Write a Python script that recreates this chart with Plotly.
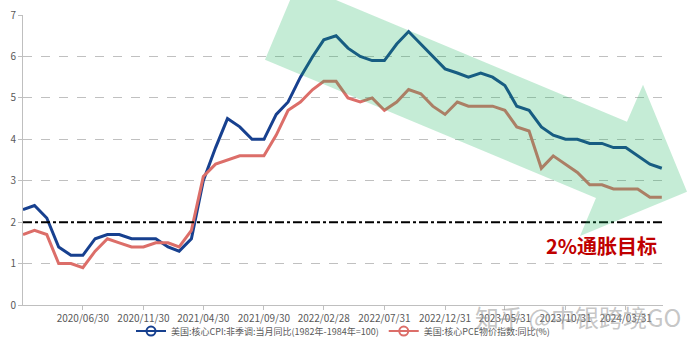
import pandas as pd
import plotly.graph_objects as go

# Month-end dates, 2020/01 .. 2024/06
months = pd.date_range("2020-01-31", periods=54, freq="ME")

core_cpi = [2.3, 2.4, 2.1, 1.4, 1.2, 1.2, 1.6, 1.7, 1.7, 1.6, 1.6, 1.6,
            1.4, 1.3, 1.6, 3.0, 3.8, 4.5, 4.3, 4.0, 4.0, 4.6, 4.9, 5.5,
            6.0, 6.4, 6.5, 6.2, 6.0, 5.9, 5.9, 6.3, 6.6, 6.3, 6.0, 5.7,
            5.6, 5.5, 5.6, 5.5, 5.3, 4.8, 4.7, 4.3, 4.1, 4.0, 4.0, 3.9,
            3.9, 3.8, 3.8, 3.6, 3.4, 3.3]
core_pce = [1.7, 1.8, 1.7, 1.0, 1.0, 0.9, 1.3, 1.6, 1.5, 1.4, 1.4, 1.5,
            1.5, 1.4, 1.8, 3.1, 3.4, 3.5, 3.6, 3.6, 3.6, 4.1, 4.7, 4.9,
            5.2, 5.4, 5.4, 5.0, 4.9, 5.0, 4.7, 4.9, 5.2, 5.1, 4.8, 4.6,
            4.9, 4.8, 4.8, 4.8, 4.7, 4.3, 4.2, 3.3, 3.6, 3.4, 3.2, 2.9,
            2.9, 2.8, 2.8, 2.8, 2.6, 2.6]

tick_dates = ["2020-06-30", "2020-11-30", "2021-04-30", "2021-09-30", "2022-02-28",
              "2022-07-31", "2022-12-31", "2023-05-31", "2023-10-31", "2024-03-31"]
tick_labels = [d.replace("-", "/") for d in tick_dates]

name_cpi = "美国:核心CPI:非季调:当月同比(1982年-1984年=100)"
name_pce = "美国:核心PCE物价指数:同比(%)"
target = 2.0

blue = "#17408f"
red = "#dc6e69"
font_fam = "Noto Sans CJK SC, Noto Sans, sans-serif"

fig = go.Figure()
fig.add_trace(go.Scatter(x=months, y=core_cpi, mode="lines", line=dict(color=blue, width=3),
                         showlegend=False, name=name_cpi))
fig.add_trace(go.Scatter(x=months, y=core_pce, mode="lines", line=dict(color=red, width=3),
                         showlegend=False, name=name_pce))
# legend entries
fig.add_trace(go.Scatter(x=[None], y=[None], mode="lines+markers", name=name_cpi,
                         line=dict(color=blue, width=2),
                         marker=dict(symbol="circle-open", size=9, color=blue, line=dict(width=2))))
fig.add_trace(go.Scatter(x=[None], y=[None], mode="lines+markers", name=name_pce,
                         line=dict(color=red, width=2),
                         marker=dict(symbol="circle-open", size=9, color=red, line=dict(width=2))))

# 2% target line
fig.add_shape(type="line", xref="paper", yref="y", x0=0, x1=1, y0=target, y1=target,
              line=dict(color="black", width=2, dash="dashdot"), layer="above")

# decorative green arrow (pixel-based path in paper coords)
L, R, T, B = 23, 663, 15.3, 305
def px(x, y):
    return (x - L) / (R - L), (B - y) / (B - T)
pts = [(297, -16), (627, 122), (643, 85), (687, 192), (580, 236), (596, 198), (265, 60)]
path = "M " + " L ".join("%.4f,%.4f" % px(x, y) for x, y in pts) + " Z"
fig.add_shape(type="path", xref="paper", yref="paper", path=path,
              fillcolor="rgba(23,179,91,0.25)", line=dict(width=0), layer="above")

fig.add_annotation(text="<b>2%通胀目标</b>", xref="paper", yref="y", x=px(601, 0)[0], y=1.43,
                   xanchor="center", yanchor="middle",
                   showarrow=False, font=dict(size=20, color="#c00000", family=font_fam))
fig.add_annotation(text="知乎 @中银跨境GO", xref="paper", yref="paper",
                   x=px(578, 0)[0], y=px(0, 316)[1], xanchor="center", yanchor="middle",
                   showarrow=False,
                   font=dict(size=24, color="rgba(150,150,150,0.55)", family=font_fam))

fig.update_layout(
    width=693, height=346,
    margin=dict(l=23, r=30, t=15, b=41, autoexpand=False),
    paper_bgcolor="white", plot_bgcolor="white",
    font=dict(family=font_fam, size=10, color="#595959"),
    legend=dict(orientation="h", x=0.5, xanchor="center", y=px(0, 331)[1], yanchor="middle",
                font=dict(size=9, color="#595959"), bgcolor="rgba(0,0,0,0)", itemwidth=30),
    xaxis=dict(type="date", range=["2020-01-31", "2024-07-03"], automargin=False,
               tickvals=tick_dates, ticktext=tick_labels,
               showgrid=False, showline=True, linecolor="#bfbfbf", linewidth=1,
               ticks="outside", ticklen=4, tickcolor="#bfbfbf",
               tickfont=dict(size=10, color="#595959"), zeroline=False),
    yaxis=dict(range=[0, 7], dtick=1, showgrid=True, gridcolor="#c0c0c0", griddash="dash",
               gridwidth=1, showline=True, linecolor="#bfbfbf", linewidth=1, automargin=False,
               ticks="outside", ticklen=4, tickcolor="#bfbfbf",
               tickfont=dict(size=10, color="#595959"), zeroline=False),
)

fig.write_html("out.html")
